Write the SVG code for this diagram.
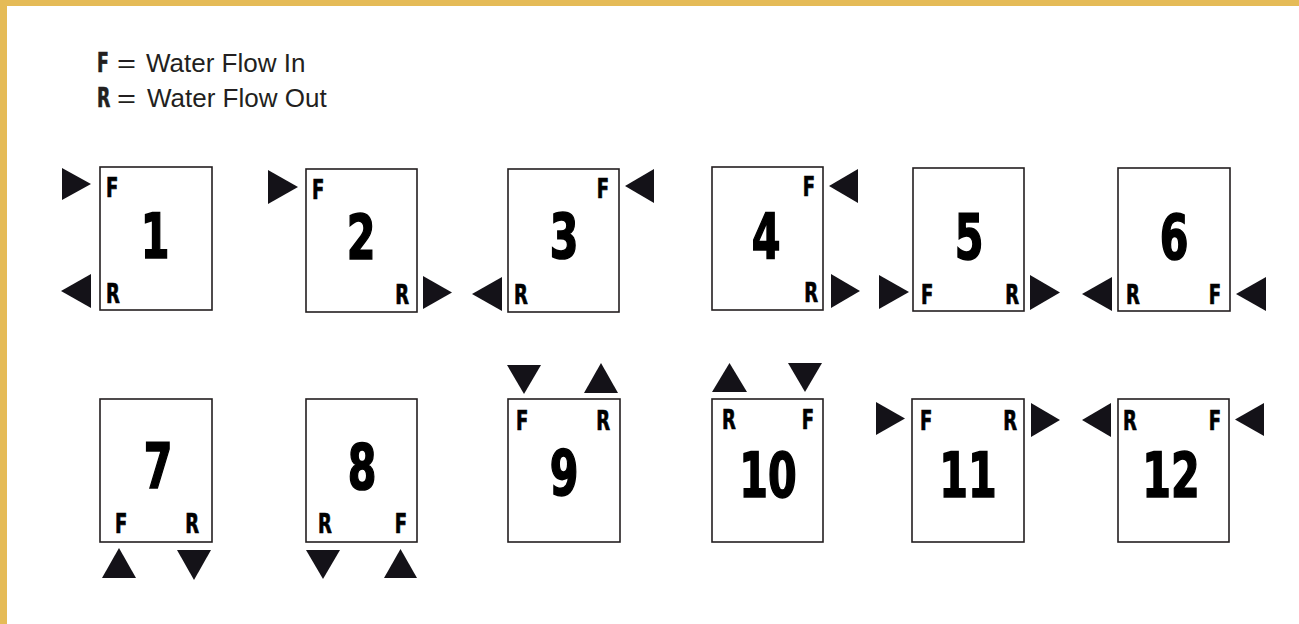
<svg xmlns="http://www.w3.org/2000/svg" width="1299" height="624" viewBox="0 0 1299 624">
<style>
.box{fill:#fff;stroke:#231f20;stroke-width:1.6}
.tri{fill:#141218}
.num{font-family:"DejaVu Sans Condensed","DejaVu Sans",sans-serif;font-weight:bold;font-size:62px;fill:#000;stroke:#000;stroke-width:1.6;text-anchor:middle}
.lbl{font-family:"DejaVu Sans Condensed","DejaVu Sans",sans-serif;font-weight:bold;font-size:27px;fill:#000;stroke:#000;stroke-width:0.7}
.end{text-anchor:end}
.leg{font-family:"Liberation Sans",Arial,sans-serif;font-size:26px;fill:#231f20}
.legb{font-family:"DejaVu Sans Condensed","DejaVu Sans",sans-serif;font-weight:bold;font-size:26px;fill:#231f20;stroke:#231f20;stroke-width:0.6}
</style>
<rect x="0" y="0" width="1299" height="624" fill="#fff"/>
<rect x="0" y="0" width="1299" height="6" fill="#e5bb57"/>
<rect x="0" y="0" width="7" height="624" fill="#e5bb57"/>
<g id="legend">
<text class="legb" transform="matrix(.74 0 0 1 97 72)">F</text><text class="leg" transform="matrix(1.25 0 0 1 117 72)">=</text><text class="leg" x="146" y="72">Water Flow In</text>
<text class="legb" transform="matrix(.74 0 0 1 97 107)">R</text><text class="leg" transform="matrix(1.25 0 0 1 117 107)">=</text><text class="leg" x="147" y="107">Water Flow Out</text>
</g>
<g id="node1"><rect class="box" x="100" y="167" width="112" height="143"/><text class="num" transform="matrix(.74 0 0 1 155 258)">1</text><text class="lbl" transform="matrix(.74 0 0 1 106 197)">F</text><text class="lbl" transform="matrix(.74 0 0 1 106 303)">R</text></g>
<g id="node2"><rect class="box" x="306" y="169" width="111" height="143"/><text class="num" transform="matrix(.74 0 0 1 361 259)">2</text><text class="lbl" transform="matrix(.74 0 0 1 312 199)">F</text><text class="lbl end" transform="matrix(.74 0 0 1 409 304)">R</text></g>
<g id="node3"><rect class="box" x="508" y="169" width="111" height="143"/><text class="num" transform="matrix(.74 0 0 1 564 258)">3</text><text class="lbl end" transform="matrix(.74 0 0 1 609 198)">F</text><text class="lbl" transform="matrix(.74 0 0 1 514 304)">R</text></g>
<g id="node4"><rect class="box" x="712" y="167" width="111" height="143"/><text class="num" transform="matrix(.74 0 0 1 766 258)">4</text><text class="lbl end" transform="matrix(.74 0 0 1 815 196)">F</text><text class="lbl end" transform="matrix(.74 0 0 1 818 302)">R</text></g>
<g id="node5"><rect class="box" x="913" y="168" width="111" height="143"/><text class="num" transform="matrix(.74 0 0 1 969 259)">5</text><text class="lbl" transform="matrix(.74 0 0 1 921 304)">F</text><text class="lbl end" transform="matrix(.74 0 0 1 1019 304)">R</text></g>
<g id="node6"><rect class="box" x="1118" y="168" width="112" height="143"/><text class="num" transform="matrix(.74 0 0 1 1174 259)">6</text><text class="lbl" transform="matrix(.74 0 0 1 1126 304)">R</text><text class="lbl end" transform="matrix(.74 0 0 1 1221 304)">F</text></g>
<g id="node7"><rect class="box" x="100" y="399" width="112" height="143"/><text class="num" transform="matrix(.74 0 0 1 158 488)">7</text><text class="lbl" transform="matrix(.74 0 0 1 115 533)">F</text><text class="lbl end" transform="matrix(.74 0 0 1 199 533)">R</text></g>
<g id="node8"><rect class="box" x="306" y="399" width="111" height="143"/><text class="num" transform="matrix(.74 0 0 1 362 489)">8</text><text class="lbl" transform="matrix(.74 0 0 1 318 533)">R</text><text class="lbl end" transform="matrix(.74 0 0 1 407 533)">F</text></g>
<g id="node9"><rect class="box" x="508" y="399" width="112" height="143"/><text class="num" transform="matrix(.74 0 0 1 564 495)">9</text><text class="lbl" transform="matrix(.74 0 0 1 516 430)">F</text><text class="lbl end" transform="matrix(.74 0 0 1 610 430)">R</text></g>
<g id="node10"><rect class="box" x="712" y="399" width="111" height="143"/><text class="num" transform="matrix(.74 0 0 1 768 497)">10</text><text class="lbl" transform="matrix(.74 0 0 1 722 429)">R</text><text class="lbl end" transform="matrix(.74 0 0 1 814 429)">F</text></g>
<g id="node11"><rect class="box" x="912" y="399" width="112" height="143"/><text class="num" transform="matrix(.74 0 0 1 968 497)">11</text><text class="lbl" transform="matrix(.74 0 0 1 920 430)">F</text><text class="lbl end" transform="matrix(.74 0 0 1 1017 430)">R</text></g>
<g id="node12"><rect class="box" x="1118" y="399" width="111" height="143"/><text class="num" transform="matrix(.74 0 0 1 1171 497)">12</text><text class="lbl" transform="matrix(.74 0 0 1 1123 430)">R</text><text class="lbl end" transform="matrix(.74 0 0 1 1221 430)">F</text></g>
<g id="connectors">
<polygon class="tri" points="62,168 62,200 91,184"/>
<polygon class="tri" points="91,274 91,308 61,291"/>
<polygon class="tri" points="268,170 268,204 298,187"/>
<polygon class="tri" points="423,276 423,309 452,292.5"/>
<polygon class="tri" points="654,169 654,203 625,186"/>
<polygon class="tri" points="502,277 502,311 472,294"/>
<polygon class="tri" points="858,169 858,203 829,186"/>
<polygon class="tri" points="831,274 831,308 860,291"/>
<polygon class="tri" points="879,275 879,309 909,292"/>
<polygon class="tri" points="1030,275 1030,310 1060,292.5"/>
<polygon class="tri" points="1112,277 1112,311 1082,294"/>
<polygon class="tri" points="1266,277 1266,311 1236,294"/>
<polygon class="tri" points="102,578 136,578 119,548"/>
<polygon class="tri" points="177,550 211,550 194,580"/>
<polygon class="tri" points="306,550 340,550 323,579"/>
<polygon class="tri" points="384,578 417,578 400.5,549"/>
<polygon class="tri" points="507,365 541,365 524,394"/>
<polygon class="tri" points="584,393 618,393 601,363"/>
<polygon class="tri" points="712,392 747,392 729.5,363"/>
<polygon class="tri" points="788,363 822,363 805,392"/>
<polygon class="tri" points="876,402 876,435 905,418.5"/>
<polygon class="tri" points="1031,403 1031,437 1060,420"/>
<polygon class="tri" points="1111,403 1111,437 1082,420"/>
<polygon class="tri" points="1264,403 1264,436 1235,419.5"/>
</g>
</svg>
